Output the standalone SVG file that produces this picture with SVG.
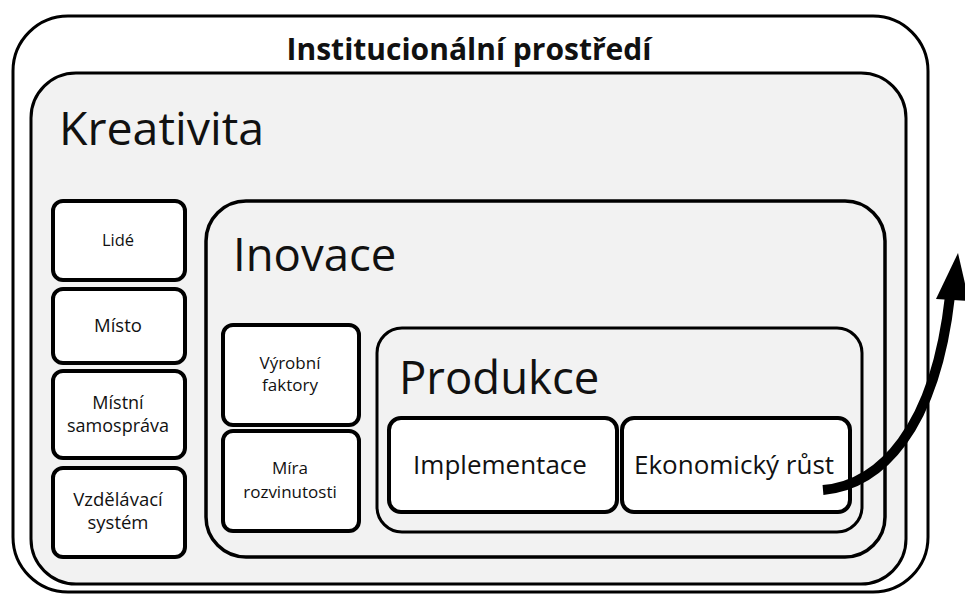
<svg xmlns="http://www.w3.org/2000/svg" width="965" height="596" viewBox="0 0 965 596">
<style>
.frame{stroke:#000;fill:#f2f2f2}
.box{stroke:#000;stroke-width:4;fill:#fff}
.t{font-family:"Open Sans","Liberation Sans",sans-serif;fill:#111;}
.big{font-size:45.5px}
.sm{font-size:17px;text-anchor:middle}
.md{font-size:18px;text-anchor:middle}
.lg{font-size:26px;text-anchor:middle}
</style>
<rect width="965" height="596" fill="#fff"/>
<g id="institucionalni">
<rect x="13" y="16" width="915" height="576" rx="55" fill="#fff" stroke="#000" stroke-width="3"/>
<text class="t" x="469" y="60" font-size="30" font-weight="bold" text-anchor="middle">Institucionální prostředí</text>
</g>
<g id="kreativita">
<rect class="frame" x="31" y="73" width="875" height="511" rx="45" stroke-width="3"/>
<text class="t big" x="59" y="145" style="font-size:46.5px">Kreativita</text>
</g>
<g id="lide"><rect class="box" x="53" y="201" width="132" height="79" rx="10"/><text class="t sm" x="118" y="246" style="font-size:16.5px">Lidé</text></g>
<g id="misto"><rect class="box" x="53" y="289" width="132" height="74" rx="10"/><text class="t md" x="118" y="332" style="font-size:18.5px">Místo</text></g>
<g id="mistni"><rect class="box" x="53" y="371" width="132" height="87" rx="10"/><text class="t md" x="118" y="409">Místní</text><text class="t md" x="118" y="432">samospráva</text></g>
<g id="vzdelavaci"><rect class="box" x="53" y="468" width="132" height="89" rx="10"/><text class="t md" x="118" y="506" style="font-size:18.5px">Vzdělávací</text><text class="t md" x="118" y="529" style="font-size:18.5px">systém</text></g>
<g id="inovace">
<rect class="frame" x="206" y="201" width="679" height="356" rx="40" stroke-width="3.5"/>
<text class="t big" x="233" y="271">Inovace</text>
</g>
<g id="vyrobni"><rect class="box" x="223" y="325" width="136" height="100" rx="10"/><text class="t sm" x="290" y="369">Výrobní</text><text class="t sm" x="290" y="391">faktory</text></g>
<g id="mira"><rect class="box" x="223" y="431" width="136" height="100" rx="10"/><text class="t sm" x="290" y="474">Míra</text><text class="t sm" x="290" y="498">rozvinutosti</text></g>
<g id="produkce">
<rect class="frame" x="377" y="328" width="485" height="204" rx="25" stroke-width="3"/>
<text class="t big" x="399" y="394">Produkce</text>
</g>
<g id="implementace"><rect class="box" x="389" y="418" width="228" height="94" rx="12" stroke-width="3.5"/><text class="t lg" x="500" y="474">Implementace</text></g>
<g id="ekonomicky"><rect class="box" x="622" y="418" width="228" height="94" rx="12" stroke-width="3.5"/><text class="t lg" x="734" y="474">Ekonomický růst</text></g>
<g id="connectors">
<path d="M823,490 C880,485 935,430 950,296" fill="none" stroke="#000" stroke-width="10"/>
<polygon points="958,253 936,299 969,301" fill="#000"/>
</g>
</svg>
